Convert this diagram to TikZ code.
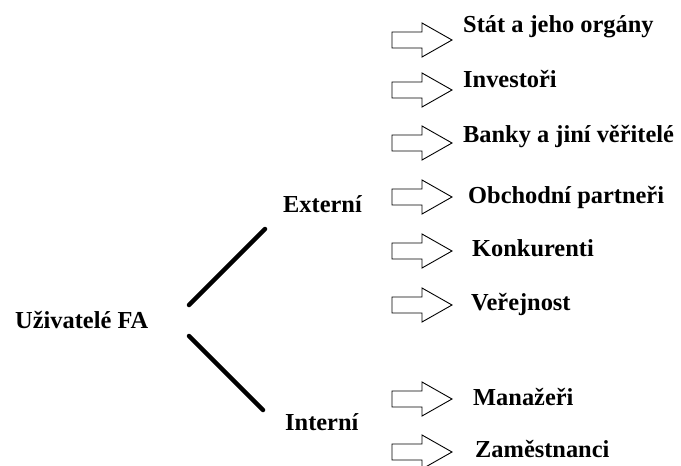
\documentclass[tikz,border=0pt]{standalone}
\usepackage{fontspec}
\setmainfont{Liberation Serif}
\begin{document}
\begin{tikzpicture}[x=1pt,y=-1pt,
  lbl/.style={anchor=base west,inner sep=0pt,font=\fontsize{24.4}{28}\selectfont\bfseries},
  branch/.style={line width=4.5pt,line cap=round},
  blockarrow/.style={draw=black,line width=0.9pt,fill=white,line join=miter}]
\useasboundingbox[fill=white] (0,0) rectangle (681,466);
% root and branches
\node[lbl] (root) at (15,328) {Uživatelé FA};
\node[lbl] (ext) at (283,212) {Externí};
\node[lbl] (int) at (285,430) {Interní};
\coordinate (b1s) at (189,305);
\coordinate (b1e) at (265,229);
\coordinate (b2s) at (189,336);
\coordinate (b2e) at (263,410);
\draw[branch] (b1s) -- (b1e);
\draw[branch] (b2s) -- (b2e);
% block arrows
\foreach \c in {40,90,143,197,251,305,399,452}{
  \draw[blockarrow] (392,\c-8) -- (422,\c-8) -- (422,\c-17) -- (452,\c)
     -- (422,\c+17) -- (422,\c+8) -- (392,\c+8) -- cycle;
}
% labels
\node[lbl] (n1) at (463,32) {Stát a jeho orgány};
\node[lbl] (n2) at (463,87) {Investoři};
\node[lbl] (n3) at (463,142) {Banky a jiní věřitelé};
\node[lbl] (n4) at (468,203) {Obchodní partneři};
\node[lbl] (n5) at (472,256) {Konkurenti};
\node[lbl] (n6) at (471,310) {Veřejnost};
\node[lbl] (n7) at (473,405) {Manažeři};
\node[lbl] (n8) at (475,457) {Zaměstnanci};
\end{tikzpicture}
\end{document}
